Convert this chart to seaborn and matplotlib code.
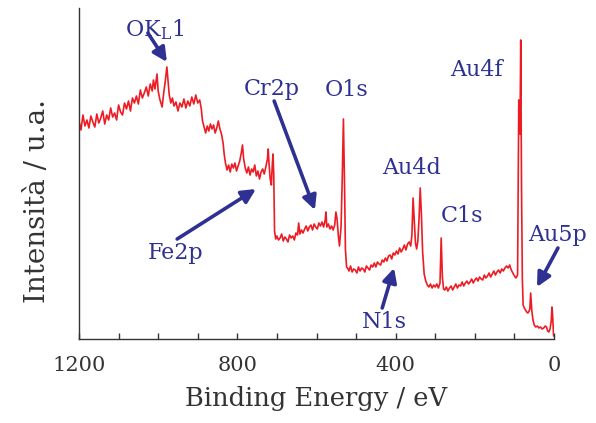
import numpy as np
import pandas as pd
import matplotlib
matplotlib.use("Agg")
import matplotlib.pyplot as plt
import seaborn as sns

# Binding energy (eV) and intensity (a.u.)
energy = [
    1200, 1195, 1190, 1185, 1180, 1175, 1170, 1165, 1160, 1155, 1150, 1145, 1140, 1135, 1130,
    1125, 1120, 1115, 1110, 1105, 1100, 1095, 1090, 1085, 1080, 1075, 1070, 1065, 1060, 1055,
    1050, 1045, 1040, 1035, 1030, 1025, 1020, 1015, 1012, 1008, 1003, 1000, 996, 990, 986,
    982, 978, 975, 972, 968, 964, 960, 955, 950, 945, 940, 935, 930, 925, 920,
    915, 910, 905, 900, 895, 891, 888, 884, 880, 876, 872, 868, 864, 860, 856,
    852, 848, 844, 840, 836, 833, 830, 826, 822, 818, 814, 810, 806, 802, 798,
    794, 790, 787, 784, 780, 776, 772, 768, 764, 760, 756, 752, 748, 744, 740,
    736, 732, 728, 724, 722, 720, 717, 714, 712, 710, 708, 706, 703, 700, 696,
    692, 688, 684, 680, 676, 672, 668, 664, 660, 656, 652, 648, 645, 642, 638,
    634, 630, 626, 622, 618, 614, 610, 606, 602, 598, 594, 590, 586, 582, 578,
    576, 574, 570, 566, 562, 558, 554, 551, 548, 545, 542, 538, 535, 532, 529,
    527, 524, 520, 518, 514, 510, 506, 502, 498, 494, 490, 486, 482, 478, 474,
    470, 466, 462, 458, 454, 450, 446, 442, 438, 434, 430, 426, 422, 418, 414,
    410, 406, 402, 398, 394, 390, 386, 382, 378, 374, 370, 366, 362, 359, 356,
    353, 350, 347, 344, 341, 338, 335, 332, 328, 324, 320, 316, 312, 308, 304,
    300, 296, 292, 288, 285, 282, 279, 276, 272, 268, 264, 260, 256, 252, 248,
    244, 240, 236, 232, 228, 224, 220, 216, 212, 208, 204, 200, 196, 192, 188,
    184, 180, 176, 172, 168, 164, 160, 156, 152, 148, 144, 140, 136, 132, 128,
    124, 120, 116, 112, 108, 104, 100, 96, 92, 89, 86, 84, 82, 80, 78,
    75, 72, 69, 66, 63, 61, 59, 56, 53, 50, 46, 42, 38, 34, 30,
    26, 22, 19, 16, 13, 10, 7, 5, 3, 1,
]
intensity = [
    218, 209, 224, 213, 219, 211, 223, 217, 212, 225, 216, 221, 228, 215, 224,
    219, 231, 222, 226, 219, 234, 227, 224, 236, 230, 238, 228, 241, 236, 243,
    235, 249, 241, 246, 252, 243, 255, 248, 259, 250, 265, 248, 240, 232, 246,
    258, 272, 258, 244, 236, 241, 233, 237, 228, 236, 232, 240, 231, 238, 233,
    242, 235, 244, 236, 239, 230, 218, 212, 206, 213, 208, 215, 210, 214, 206,
    211, 218, 210, 205, 196, 184, 176, 169, 174, 167, 175, 171, 176, 168, 173,
    178, 186, 194, 180, 171, 166, 172, 164, 170, 167, 174, 163, 168, 160, 167,
    170, 165, 172, 180, 190, 176, 160, 154, 172, 185, 165, 108, 100, 103, 99,
    101, 105, 98, 102, 100, 97, 104, 101, 103, 99, 106, 104, 116, 105, 109,
    106, 110, 113, 108, 112, 114, 109, 115, 112, 110, 116, 113, 117, 112, 119,
    127, 112, 115, 110, 113, 109, 114, 127, 120, 104, 93, 112, 160, 220, 150,
    90, 72, 70, 68, 73, 67, 70, 69, 66, 72, 68, 71, 70, 67, 73,
    71, 69, 74, 72, 76, 72, 77, 75, 74, 79, 77, 81, 78, 83, 84,
    80, 86, 84, 88, 85, 91, 87, 90, 94, 89, 95, 97, 93, 104, 141,
    118, 96, 90, 98, 120, 151, 125, 88, 65, 58, 54, 52, 55, 51, 54,
    52, 55, 51, 56, 101, 62, 50, 49, 52, 48, 51, 53, 49, 52, 55,
    51, 54, 53, 57, 53, 56, 58, 55, 57, 60, 56, 59, 61, 58, 62,
    60, 59, 64, 61, 63, 66, 62, 65, 68, 64, 67, 69, 66, 70, 68,
    71, 73, 71, 74, 69, 66, 63, 61, 64, 239, 205, 299, 150, 60, 34,
    31, 29, 27, 26, 28, 30, 46, 28, 19, 14, 12, 13, 11, 12, 10,
    11, 13, 12, 8, 7, 10, 18, 32, 20, 3,
]

# Annotation labels: (text, x_eV, baseline_intensity)
peak_labels = ["OK$_\\mathrm{L}$1", "Cr2p", "O1s", "Au4f", "Au4d", "C1s", "Au5p", "N1s", "Fe2p"]
label_x = [1008, 712, 525, 195, 361, 232, -8, 429, 957]
label_y = [303, 244, 243, 263, 165, 117, 98, 11, 80]
# Arrows: tail and head positions
arrow_tail_x = [1026, 707, -10, 434, 952]
arrow_tail_y = [306, 238, 91, 31, 100]
arrow_head_x = [978, 604, 43, 404, 753]
arrow_head_y = [277, 129, 52, 71, 150]

df = pd.DataFrame({"energy": energy, "intensity": intensity})

sns.set_theme(style="white")
plt.rcParams["font.family"] = ["DejaVu Serif"]
plt.rcParams["mathtext.fontset"] = "dejavuserif"

red = "#ED1C24"
navy = "#2E3192"
dark = "#333333"

fig = plt.figure(figsize=(5.96, 4.23), dpi=100)
ax = fig.add_axes([79 / 596, (423 - 339) / 423, 475 / 596, 331 / 423])

sns.lineplot(data=df, x="energy", y="intensity", color=red, lw=1.2, ax=ax, sort=True)

ax.set_xlim(1200, 0)
ax.set_ylim(0, 331)
ax.set_xticks([1200, 800, 400, 0])
ax.set_xticks(list(range(0, 1201, 100)), minor=True)
ax.set_yticks([])
ax.tick_params(axis="x", which="both", direction="in", length=4, width=1, color=dark,
               bottom=True, labelsize=15, labelcolor=dark, pad=12)
for s in ["top", "right"]:
    ax.spines[s].set_visible(False)
for s in ["left", "bottom"]:
    ax.spines[s].set_color(dark)
    ax.spines[s].set_linewidth(1.0)

ax.set_xlabel("Binding Energy / eV", fontsize=18.5, color=dark, labelpad=8)
ax.set_ylabel("Intensità / u.a.", fontsize=20, color=dark, va="center", ha="center")
ax.yaxis.set_label_coords(-0.088, 0.417)

for t, x, y in zip(peak_labels, label_x, label_y):
    ax.text(x, y, t, color=navy, fontsize=16, ha="center", va="baseline", clip_on=False)

for tx, ty, hx, hy in zip(arrow_tail_x, arrow_tail_y, arrow_head_x, arrow_head_y):
    ax.annotate("", xy=(hx, hy), xytext=(tx, ty), annotation_clip=False,
                arrowprops=dict(arrowstyle="-|>,head_length=0.7,head_width=0.35",
                                lw=2.6, color=navy, shrinkA=0, shrinkB=0))

fig.savefig("out.png", dpi=100)
